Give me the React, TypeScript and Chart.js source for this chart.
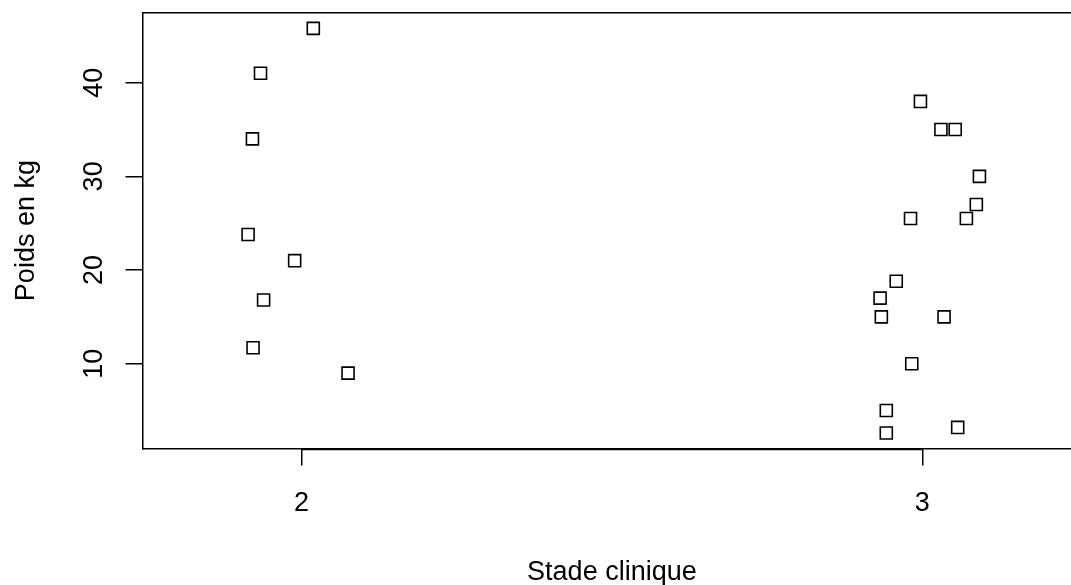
import React, { useEffect, useRef } from "react";
import { Chart, registerables } from "chart.js";

Chart.register(...registerables);

// Stade clinique 2 (jittered x position, weight in kg)
const stage2X = [2.019, 1.934, 1.921, 1.914, 1.989, 1.939, 1.922, 2.075];
const stage2Y = [45.8, 41.0, 34.0, 23.8, 21.0, 16.8, 11.7, 9.0];

// Stade clinique 3
const stage3X = [2.997, 3.030, 3.053, 3.092, 3.087, 2.981, 3.071, 2.958, 2.932, 2.934, 3.035, 2.983, 2.942, 2.942, 3.057];
const stage3Y = [38.0, 35.0, 35.0, 30.0, 27.0, 25.5, 25.5, 18.8, 17.0, 15.0, 15.0, 10.0, 5.0, 2.6, 3.2];

const xTicks = [2, 3];
const xTickLabels = ["2", "3"];
const yTicks = [10, 20, 30, 40];
const yTickLabels = ["10", "20", "30", "40"];

const xTitle = "Stade clinique";
const yTitle = "Poids en kg";

const X_MIN = 1.7439;
const X_MAX = 3.2395;
const X_CENTER = 2.5;
const Y_MIN = 0.95;
const Y_MAX = 47.47;

const FONT = '27px "Liberation Sans", Arial, Helvetica, sans-serif';

const textPlugin = {
  id: "rText",
  afterDraw(chart: any) {
    const { ctx, chartArea, scales } = chart;
    const xs = scales.x;
    const ys = scales.y;
    ctx.save();
    // top border of the box
    ctx.strokeStyle = "#000";
    ctx.lineWidth = 1.5;
    ctx.beginPath();
    ctx.moveTo(chartArea.left, chartArea.top);
    ctx.lineTo(chartArea.right, chartArea.top);
    ctx.stroke();
    // axis line (R axis overlapping box between first and last tick)
    ctx.beginPath();
    ctx.moveTo(xs.getPixelForValue(xTicks[0]), chartArea.bottom + 1);
    ctx.lineTo(xs.getPixelForValue(xTicks[xTicks.length - 1]), chartArea.bottom + 1);
    ctx.stroke();

    ctx.fillStyle = "#000";
    ctx.font = FONT;
    ctx.textBaseline = "alphabetic";
    ctx.textAlign = "center";
    xTicks.forEach((v, i) => {
      ctx.fillText(xTickLabels[i], xs.getPixelForValue(v), chartArea.bottom + 62);
    });
    ctx.fillText(xTitle, xs.getPixelForValue(X_CENTER), chartArea.bottom + 131);

    yTicks.forEach((v, i) => {
      ctx.save();
      ctx.translate(chartArea.left - 41, ys.getPixelForValue(v));
      ctx.rotate(-Math.PI / 2);
      ctx.fillText(yTickLabels[i], 0, 0);
      ctx.restore();
    });
    ctx.save();
    ctx.translate(chartArea.left - 108.5, (chartArea.top + chartArea.bottom) / 2);
    ctx.rotate(-Math.PI / 2);
    ctx.fillText(yTitle, 0, 0);
    ctx.restore();
    ctx.restore();
  },
};

export default function App() {
  const ref = useRef<HTMLCanvasElement | null>(null);
  useEffect(() => {
    document.body.style.margin = "0";
    const canvas = ref.current!;
    const toPts = (xa: number[], ya: number[]) => xa.map((x, i) => ({ x, y: ya[i] }));
    const ds = (data: any) => ({
      data,
      pointStyle: "rect",
      pointRadius: 8.5,
      pointHoverRadius: 8.5,
      pointBorderWidth: 1.6,
      pointBorderColor: "#000",
      pointBackgroundColor: "rgba(0,0,0,0)",
      showLine: false,
    });
    const chart = new Chart(canvas, {
      type: "scatter",
      data: {
        datasets: [ds(toPts(stage2X, stage2Y)), ds(toPts(stage3X, stage3Y))],
      },
      options: {
        animation: false,
        responsive: false,
        maintainAspectRatio: false,
        devicePixelRatio: 1,
        layout: { autoPadding: false, padding: { top: 12.7, left: 0, right: 0, bottom: 0 } },
        plugins: { legend: { display: false }, tooltip: { enabled: false } },
        scales: {
          x: {
            type: "linear",
            position: "bottom",
            min: X_MIN,
            max: X_MAX,
            afterBuildTicks: (s: any) => {
              s.ticks = xTicks.map((v) => ({ value: v }));
            },
            afterFit: (s: any) => {
              s.height = 136.5;
            },
            ticks: { display: false },
            grid: { drawOnChartArea: false, drawTicks: true, tickLength: 17, color: "#000", lineWidth: 1.5 },
            border: { display: true, color: "#000", width: 1.5 },
          },
          y: {
            type: "linear",
            position: "left",
            min: Y_MIN,
            max: Y_MAX,
            afterBuildTicks: (s: any) => {
              s.ticks = yTicks.map((v) => ({ value: v }));
            },
            afterFit: (s: any) => {
              s.width = 142.5;
            },
            ticks: { display: false },
            grid: { drawOnChartArea: false, drawTicks: true, tickLength: 17, color: "#000", lineWidth: 1.5 },
            border: { display: true, color: "#000", width: 1.5 },
          },
        },
      },
      plugins: [textPlugin],
    } as any);
    return () => chart.destroy();
  }, []);
  return (
    <div style={{ position: "fixed", left: 0, top: 0, width: 1071, height: 585, background: "#fff" }}>
      <canvas ref={ref} width={1071} height={585} style={{ width: 1071, height: 585, display: "block" }} />
    </div>
  );
}
